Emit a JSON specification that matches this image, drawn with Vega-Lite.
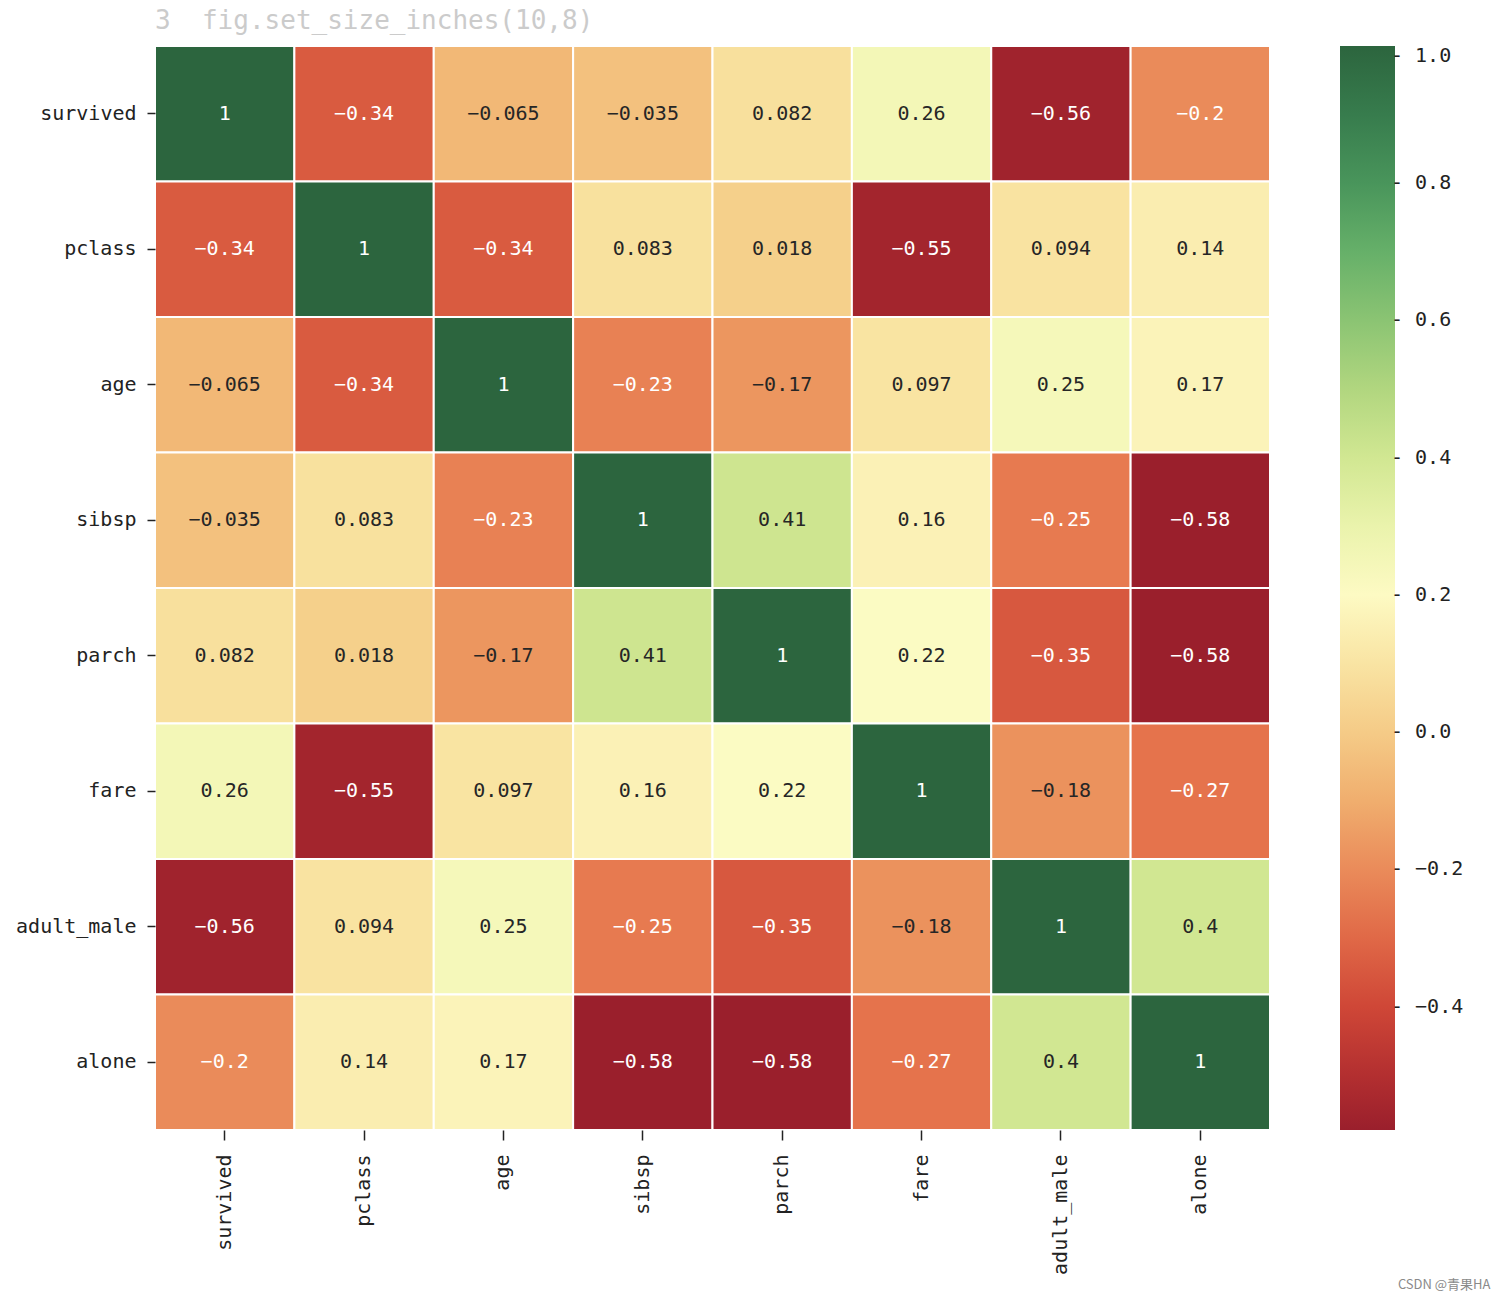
{
  "$schema": "https://vega.github.io/schema/vega-lite/v6.json",
  "autosize": {"type": "none"},
  "width": 1115,
  "height": 1084,
  "padding": {"left": 155, "top": 46, "right": 236, "bottom": 170},
  "background": "white",
  "title": {
    "text": "3\u00a0\u00a0fig.set_size_inches(10,8)",
    "anchor": "start",
    "frame": "group",
    "font": "DejaVu Sans Mono",
    "fontSize": 26,
    "fontWeight": "normal",
    "color": "#cbcbcb",
    "baseline": "alphabetic",
    "offset": 14,
    "dy": 24
  },
  "data": {
    "values": [
      {"row": "survived", "col": "survived", "r": 1},
      {"row": "survived", "col": "pclass", "r": -0.34},
      {"row": "survived", "col": "age", "r": -0.065},
      {"row": "survived", "col": "sibsp", "r": -0.035},
      {"row": "survived", "col": "parch", "r": 0.082},
      {"row": "survived", "col": "fare", "r": 0.26},
      {"row": "survived", "col": "adult_male", "r": -0.56},
      {"row": "survived", "col": "alone", "r": -0.2},
      {"row": "pclass", "col": "survived", "r": -0.34},
      {"row": "pclass", "col": "pclass", "r": 1},
      {"row": "pclass", "col": "age", "r": -0.34},
      {"row": "pclass", "col": "sibsp", "r": 0.083},
      {"row": "pclass", "col": "parch", "r": 0.018},
      {"row": "pclass", "col": "fare", "r": -0.55},
      {"row": "pclass", "col": "adult_male", "r": 0.094},
      {"row": "pclass", "col": "alone", "r": 0.14},
      {"row": "age", "col": "survived", "r": -0.065},
      {"row": "age", "col": "pclass", "r": -0.34},
      {"row": "age", "col": "age", "r": 1},
      {"row": "age", "col": "sibsp", "r": -0.23},
      {"row": "age", "col": "parch", "r": -0.17},
      {"row": "age", "col": "fare", "r": 0.097},
      {"row": "age", "col": "adult_male", "r": 0.25},
      {"row": "age", "col": "alone", "r": 0.17},
      {"row": "sibsp", "col": "survived", "r": -0.035},
      {"row": "sibsp", "col": "pclass", "r": 0.083},
      {"row": "sibsp", "col": "age", "r": -0.23},
      {"row": "sibsp", "col": "sibsp", "r": 1},
      {"row": "sibsp", "col": "parch", "r": 0.41},
      {"row": "sibsp", "col": "fare", "r": 0.16},
      {"row": "sibsp", "col": "adult_male", "r": -0.25},
      {"row": "sibsp", "col": "alone", "r": -0.58},
      {"row": "parch", "col": "survived", "r": 0.082},
      {"row": "parch", "col": "pclass", "r": 0.018},
      {"row": "parch", "col": "age", "r": -0.17},
      {"row": "parch", "col": "sibsp", "r": 0.41},
      {"row": "parch", "col": "parch", "r": 1},
      {"row": "parch", "col": "fare", "r": 0.22},
      {"row": "parch", "col": "adult_male", "r": -0.35},
      {"row": "parch", "col": "alone", "r": -0.58},
      {"row": "fare", "col": "survived", "r": 0.26},
      {"row": "fare", "col": "pclass", "r": -0.55},
      {"row": "fare", "col": "age", "r": 0.097},
      {"row": "fare", "col": "sibsp", "r": 0.16},
      {"row": "fare", "col": "parch", "r": 0.22},
      {"row": "fare", "col": "fare", "r": 1},
      {"row": "fare", "col": "adult_male", "r": -0.18},
      {"row": "fare", "col": "alone", "r": -0.27},
      {"row": "adult_male", "col": "survived", "r": -0.56},
      {"row": "adult_male", "col": "pclass", "r": 0.094},
      {"row": "adult_male", "col": "age", "r": 0.25},
      {"row": "adult_male", "col": "sibsp", "r": -0.25},
      {"row": "adult_male", "col": "parch", "r": -0.35},
      {"row": "adult_male", "col": "fare", "r": -0.18},
      {"row": "adult_male", "col": "adult_male", "r": 1},
      {"row": "adult_male", "col": "alone", "r": 0.4},
      {"row": "alone", "col": "survived", "r": -0.2},
      {"row": "alone", "col": "pclass", "r": 0.14},
      {"row": "alone", "col": "age", "r": 0.17},
      {"row": "alone", "col": "sibsp", "r": -0.58},
      {"row": "alone", "col": "parch", "r": -0.58},
      {"row": "alone", "col": "fare", "r": -0.27},
      {"row": "alone", "col": "adult_male", "r": 0.4},
      {"row": "alone", "col": "alone", "r": 1}
    ]
  },
  "encoding": {
    "x": {
      "field": "col",
      "type": "nominal",
      "sort": ["survived", "pclass", "age", "sibsp", "parch", "fare", "adult_male", "alone"],
      "scale": {"paddingInner": 0, "paddingOuter": 0},
      "axis": {
        "title": "CSDN @青果HA",
        "titleFont": "Noto Sans CJK SC",
        "titleFontSize": 13,
        "titleFontWeight": "normal",
        "titleColor": "#8a8a8a",
        "titleX": 1335,
        "titleY": 154,
        "titleAlign": "right",
        "titleBaseline": "middle",
        "titleAngle": 0,
        "labelAngle": 270,
        "labelFont": "DejaVu Sans Mono",
        "labelFontSize": 20,
        "labelColor": "#222222",
        "labelPadding": 14,
        "tickSize": 10,
        "tickColor": "#222222",
        "tickWidth": 1.5,
        "domain": false,
        "grid": false
      }
    },
    "y": {
      "field": "row",
      "type": "nominal",
      "sort": ["survived", "pclass", "age", "sibsp", "parch", "fare", "adult_male", "alone"],
      "scale": {"paddingInner": 0, "paddingOuter": 0},
      "axis": {
        "title": null,
        "labelFont": "DejaVu Sans Mono",
        "labelFontSize": 20,
        "labelColor": "#222222",
        "labelPadding": 11,
        "tickSize": 8,
        "tickColor": "#222222",
        "tickWidth": 1.5,
        "domain": false,
        "grid": false
      }
    }
  },
  "layer": [
    {
      "mark": {"type": "rect", "stroke": "white", "strokeWidth": 2},
      "encoding": {
        "color": {
          "field": "r",
          "type": "quantitative",
          "scale": {
            "domain": [-0.58, -0.422, -0.264, -0.106, 0.052, 0.21, 0.368, 0.526, 0.684, 0.842, 1.0],
            "range": ["#9a1f2c", "#cb3f33", "#e6754d", "#f0ac6c", "#f7da94", "#fdfcc6", "#dcec98", "#a8d27a", "#6bb46b", "#3d8a55", "#2c653e"],
            "interpolate": "rgb"
          },
          "legend": {
            "title": null,
            "orient": "right",
            "direction": "vertical",
            "offset": 70,
            "gradientLength": 1084,
            "gradientThickness": 55,
            "gradientStrokeWidth": 0,
            "values": [-0.4, -0.2, 0, 0.2, 0.4, 0.6, 0.8, 1.0],
            "labelExpr": "'- ' + format(datum.value, '.1f')",
            "labelFont": "DejaVu Sans Mono",
            "labelFontSize": 20,
            "labelColor": "#222222",
            "labelOffset": -4,
            "labelOverlap": false,
            "labelBaseline": "middle"
          }
        }
      }
    },
    {
      "mark": {"type": "text", "font": "DejaVu Sans Mono", "fontSize": 20},
      "encoding": {
        "text": {"field": "r", "type": "quantitative", "format": ".2~g"},
        "color": {
          "condition": {"test": "datum.r < -0.19 || datum.r > 0.7", "value": "#ffffff"},
          "value": "#262626"
        }
      }
    }
  ]
}
